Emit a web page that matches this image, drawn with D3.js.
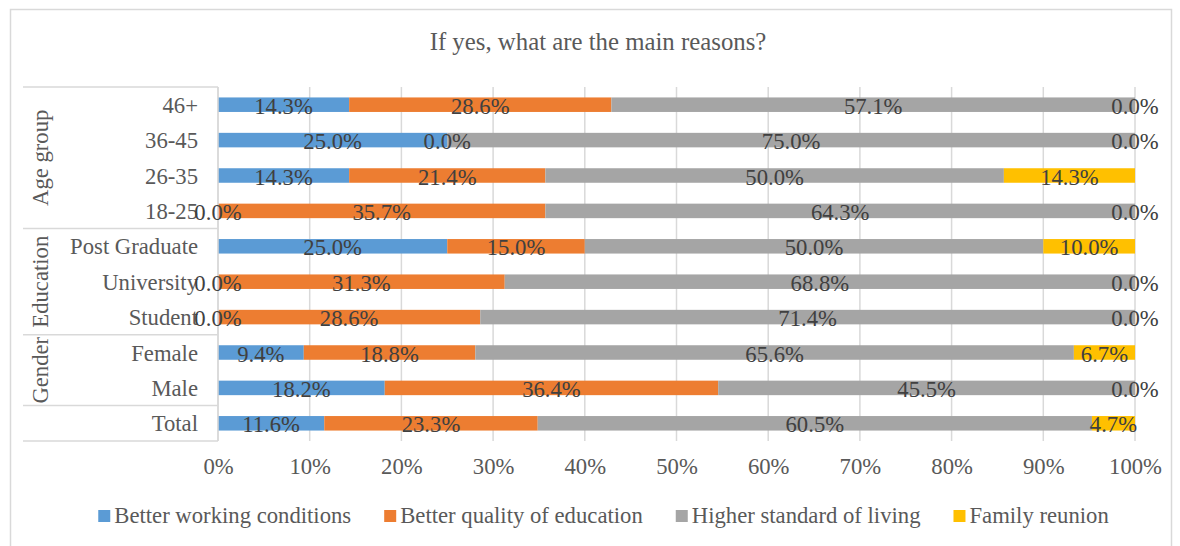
<!DOCTYPE html>
<html>
<head>
<meta charset="utf-8">
<script src="https://cdn.jsdelivr.net/npm/d3@7"></script>
<style>
  body { margin: 0; background: #fff; }
  text { font-family: "Liberation Serif", "Times New Roman", serif; }
</style>
</head>
<body>
<div class="chart"></div>
<script>
// chart values
var categories = ["46+", "36-45", "26-35", "18-25", "Post Graduate", "University", "Student", "Female", "Male", "Total"];
var groups = [
  { name: "Age group", first: "46+", last: "18-25" },
  { name: "Education", first: "Post Graduate", last: "Student" },
  { name: "Gender", first: "Female", last: "Male" },
  { name: "", first: "Total", last: "Total" }
];
var seriesNames = ["Better working conditions", "Better quality of education", "Higher standard of living", "Family reunion"];
var working = [14.3, 25.0, 14.3, 0.0, 25.0, 0.0, 0.0, 9.4, 18.2, 11.6];
var education = [28.6, 0.0, 21.4, 35.7, 15.0, 31.3, 28.6, 18.8, 36.4, 23.3];
var living = [57.1, 75.0, 50.0, 64.3, 50.0, 68.8, 71.4, 65.6, 45.5, 60.5];
var reunion = [0.0, 0.0, 14.3, 0.0, 10.0, 0.0, 0.0, 6.7, 0.0, 4.7];
var xTicks = [0, 0.1, 0.2, 0.3, 0.4, 0.5, 0.6, 0.7, 0.8, 0.9, 1.0];
var colors = ["#5B9BD5", "#ED7D31", "#A5A5A5", "#FFC000"];

var svgWidth = 1180;
var svgHeight = 546;
var fontSize = "22.7px";

var plot = { left: 218, right: 1135, top: 87, bottom: 441 };

var svg = d3.select(".chart")
  .append("svg")
  .attr("width", svgWidth)
  .attr("height", svgHeight);

// outer frame
svg.append("rect")
  .attr("x", 10.5).attr("y", 9.5)
  .attr("width", 1161).attr("height", 560)
  .attr("fill", "none")
  .attr("stroke", "#d9d9d9")
  .attr("stroke-width", 1.5);

// title
svg.append("text")
  .attr("x", 598).attr("y", 50)
  .attr("text-anchor", "middle")
  .attr("font-size", "24.8px")
  .attr("fill", "#595959")
  .text("If yes, what are the main reasons?");

// rows for the stack
var rows = categories.map(function(c, i) {
  var r = { cat: c };
  r[seriesNames[0]] = working[i];
  r[seriesNames[1]] = education[i];
  r[seriesNames[2]] = living[i];
  r[seriesNames[3]] = reunion[i];
  return r;
});

// 100% stacked, like the original
var stacked = d3.stack()
  .keys(seriesNames)
  .offset(d3.stackOffsetExpand)(rows);

var xScale = d3.scaleLinear().domain([0, 1]).range([plot.left, plot.right]);
var yScale = d3.scaleBand()
  .domain(categories)
  .range([plot.top, plot.bottom])
  .paddingInner(0.59)
  .paddingOuter(0.295);

// gridlines
svg.append("g")
  .selectAll("line")
  .data(xTicks)
  .enter()
  .append("line")
  .attr("x1", d => xScale(d)).attr("x2", d => xScale(d))
  .attr("y1", plot.top).attr("y2", plot.bottom)
  .attr("stroke", "#d9d9d9")
  .attr("stroke-width", 1.5);

// x tick labels
var xAxis = d3.axisBottom(xScale)
  .tickValues(xTicks)
  .tickFormat(d3.format(".0%"))
  .tickSize(0)
  .tickPadding(0);

var xAxisG = svg.append("g")
  .attr("transform", `translate(0, ${plot.bottom})`)
  .call(xAxis);
xAxisG.select(".domain").remove();
xAxisG.selectAll("text")
  .attr("y", 33)
  .attr("dy", 0)
  .attr("font-size", fontSize)
  .attr("fill", "#595959");

// bars
var layers = svg.append("g")
  .selectAll("g")
  .data(stacked)
  .enter()
  .append("g")
  .attr("fill", (d, i) => colors[i]);

layers.selectAll("rect")
  .data(d => d)
  .enter()
  .append("rect")
  .attr("x", d => xScale(d[0]))
  .attr("y", d => yScale(d.data.cat))
  .attr("width", d => xScale(d[1]) - xScale(d[0]))
  .attr("height", yScale.bandwidth());

// category axis: lines and labels
var catG = svg.append("g");
var step = yScale.step();
var half = (step - yScale.bandwidth()) / 2;

catG.append("line")
  .attr("x1", plot.left).attr("x2", plot.left)
  .attr("y1", plot.top).attr("y2", plot.bottom)
  .attr("stroke", "#d9d9d9").attr("stroke-width", 1.5);

groups.forEach(function(g, i) {
  var y0 = yScale(g.first) - half;
  var y1 = yScale(g.last) + yScale.bandwidth() + half;
  catG.append("line")
    .attr("x1", 23).attr("x2", plot.left)
    .attr("y1", y0).attr("y2", y0)
    .attr("stroke", "#d9d9d9").attr("stroke-width", 1.5);
  if (i === groups.length - 1) {
    catG.append("line")
      .attr("x1", 23).attr("x2", plot.left)
      .attr("y1", y1).attr("y2", y1)
      .attr("stroke", "#d9d9d9").attr("stroke-width", 1.5);
  }
  if (g.name) {
    var cy = (y0 + y1) / 2;
    catG.append("text")
      .attr("transform", `translate(40, ${cy}) rotate(-90)`)
      .attr("text-anchor", "middle")
      .attr("dominant-baseline", "central")
      .attr("font-size", fontSize)
      .attr("fill", "#595959")
      .text(g.name);
  }
});

catG.selectAll(".catLabel")
  .data(categories)
  .enter()
  .append("text")
  .attr("class", "catLabel")
  .attr("x", 198)
  .attr("y", d => yScale(d) + yScale.bandwidth() / 2 + 8)
  .attr("text-anchor", "end")
  .attr("font-size", fontSize)
  .attr("fill", "#595959")
  .text(d => d);

// data labels
var labelG = svg.append("g");
stacked.forEach(function(layer, k) {
  var src = [working, education, living, reunion][k];
  labelG.selectAll(null)
    .data(layer)
    .enter()
    .append("text")
    .attr("x", d => xScale((d[0] + d[1]) / 2))
    .attr("y", d => yScale(d.data.cat) + yScale.bandwidth() / 2 + 9)
    .attr("text-anchor", "middle")
    .attr("font-size", fontSize)
    .attr("fill", "#404040")
    .text((d, i) => src[i].toFixed(1) + "%");
});

// legend
var legend = svg.append("g");
var items = legend.selectAll("g")
  .data(seriesNames)
  .enter()
  .append("g");
items.append("rect")
  .attr("width", 12).attr("height", 12)
  .attr("y", 510)
  .attr("fill", (d, i) => colors[i]);
items.append("text")
  .attr("x", 16)
  .attr("y", 523)
  .attr("font-size", fontSize)
  .attr("fill", "#595959")
  .text(d => d);

var gap = 33;
var widths = [];
items.each(function() {
  widths.push(16 + d3.select(this).select("text").node().getComputedTextLength());
});
var total = d3.sum(widths) + gap * (widths.length - 1);
var lx = 603.5 - total / 2;
items.each(function(d, i) {
  d3.select(this).attr("transform", `translate(${lx}, 0)`);
  lx += widths[i] + gap;
});
</script>
</body>
</html>
